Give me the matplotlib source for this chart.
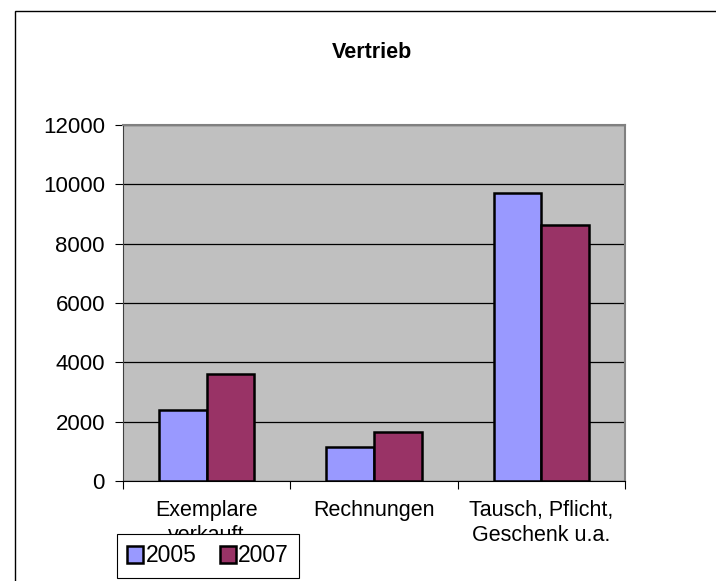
import matplotlib
matplotlib.use("Agg")
from matplotlib import pyplot as plt
from matplotlib.patches import Rectangle, Patch

plt.rcParams['font.family'] = ['Liberation Sans', 'DejaVu Sans']

categories = ["Exemplare\nverkauft", "Rechnungen", "Tausch, Pflicht,\nGeschenk u.a."]
years = ["2005", "2007"]
values_2005 = [2400, 1150, 9700]
values_2007 = [3600, 1650, 8620]
y_ticks = [0, 2000, 4000, 6000, 8000, 10000, 12000]

col_2005 = "#9999FF"
col_2007 = "#993366"

fig = plt.figure(figsize=(7.16, 5.81), dpi=100)

# outer chart frame (Excel style)
fig.patches.append(Rectangle((15 / 716, -0.1), 1.2, 0.981 + 0.1, transform=fig.transFigure,
                             fill=False, edgecolor="black", linewidth=1.0))

ax = fig.add_axes([123 / 716, 1 - 481 / 581, 502 / 716, 356 / 581])
ax.set_facecolor("#C0C0C0")

x = range(len(categories))
w = 2 / 7
ax.bar([i - w / 2 for i in x], values_2005, width=w, color=col_2005,
       edgecolor="black", linewidth=1.8, zorder=3)
ax.bar([i + w / 2 for i in x], values_2007, width=w, color=col_2007,
       edgecolor="black", linewidth=1.8, zorder=3)

ax.set_xlim(-0.5, 2.5)
ax.set_ylim(0, 12000)
ax.set_yticks(y_ticks)
ax.set_yticklabels([str(v) for v in y_ticks], fontsize=16)
ax.yaxis.grid(True, color="black", linewidth=0.9, zorder=1)
ax.set_axisbelow(True)

# category boundaries get the tick marks, labels sit in the middle
ax.set_xticks([-0.5, 0.5, 1.5, 2.5])
ax.set_xticklabels([])
ax.set_xticks([0, 1, 2], minor=True)
ax.set_xticklabels(categories, minor=True, fontsize=15.5, linespacing=1.25)
ax.tick_params(axis="x", which="major", direction="out", length=6, color="black")
ax.tick_params(axis="x", which="minor", length=0, pad=14)
ax.tick_params(axis="y", direction="out", length=6, pad=7)

for s in ["top", "right"]:
    ax.spines[s].set_color("#808080")
    ax.spines[s].set_linewidth(1.5)
ax.spines["left"].set_color("#404040")
ax.spines["bottom"].set_color("black")

fig.text(372 / 716, 1 - 52 / 581, "Vertrieb", ha="center", va="center",
         fontsize=15.5, fontweight="bold")

handles = [Patch(facecolor=col_2005, edgecolor="black", linewidth=1.8),
           Patch(facecolor=col_2007, edgecolor="black", linewidth=1.8)]
leg = fig.legend(handles, years, loc="center", bbox_to_anchor=(208 / 716, 1 - 556 / 581),
                 ncol=2, fontsize=16.5, frameon=True, fancybox=False, framealpha=1,
                 edgecolor="black", handlelength=0.7, handleheight=0.7,
                 handletextpad=0.1, columnspacing=1.0, borderpad=0.45)
leg.get_frame().set_linewidth(0.8)

fig.savefig("out.png", dpi=100)
